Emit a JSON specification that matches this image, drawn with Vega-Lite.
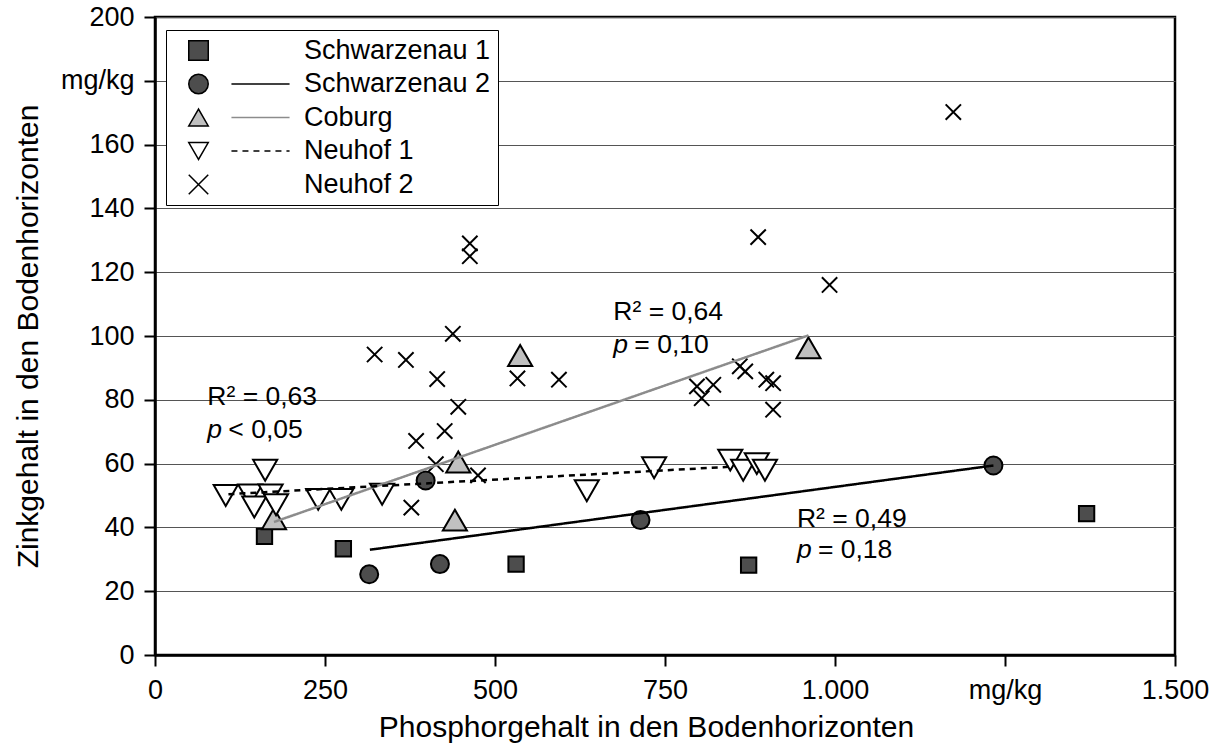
{
  "$schema": "https://vega.github.io/schema/vega-lite/v6.json",
  "width": 1020,
  "height": 638,
  "autosize": {"type": "none"},
  "padding": {"left": 155, "top": 17, "right": 51, "bottom": 94},
  "background": "white",
  "config": {
    "font": "Liberation Sans",
    "view": {"stroke": "black", "strokeWidth": 2.5},
    "axis": {
      "domainColor": "black", "domainWidth": 2.5,
      "tickColor": "black", "tickWidth": 2, "tickSize": 11,
      "labelFont": "Liberation Sans", "labelFontSize": 27, "labelColor": "black",
      "titleFont": "Liberation Sans", "titleFontSize": 30, "titleFontWeight": "normal", "titleColor": "black",
      "gridColor": "#555555", "gridWidth": 1, "gridOpacity": 1
    }
  },
  "datasets": {
    "points": [
      {"site": "Schwarzenau 1", "P": 161, "Zn": 37.2},
      {"site": "Schwarzenau 1", "P": 277, "Zn": 33.3},
      {"site": "Schwarzenau 1", "P": 531, "Zn": 28.5},
      {"site": "Schwarzenau 1", "P": 873, "Zn": 28.2},
      {"site": "Schwarzenau 1", "P": 1370, "Zn": 44.3},
      {"site": "Schwarzenau 2", "P": 315, "Zn": 25.3},
      {"site": "Schwarzenau 2", "P": 419, "Zn": 28.5},
      {"site": "Schwarzenau 2", "P": 398, "Zn": 54.7},
      {"site": "Schwarzenau 2", "P": 714, "Zn": 42.3},
      {"site": "Schwarzenau 2", "P": 1233, "Zn": 59.4},
      {"site": "Coburg", "P": 175, "Zn": 42.7},
      {"site": "Coburg", "P": 441, "Zn": 42.3},
      {"site": "Coburg", "P": 446, "Zn": 60.5},
      {"site": "Coburg", "P": 537, "Zn": 93.9},
      {"site": "Coburg", "P": 961, "Zn": 96.3},
      {"site": "Neuhof 1", "P": 104, "Zn": 50.0},
      {"site": "Neuhof 1", "P": 140, "Zn": 50.2},
      {"site": "Neuhof 1", "P": 146, "Zn": 46.4},
      {"site": "Neuhof 1", "P": 162, "Zn": 57.9},
      {"site": "Neuhof 1", "P": 170, "Zn": 50.2},
      {"site": "Neuhof 1", "P": 178, "Zn": 47.1},
      {"site": "Neuhof 1", "P": 240, "Zn": 48.8},
      {"site": "Neuhof 1", "P": 274, "Zn": 48.8},
      {"site": "Neuhof 1", "P": 334, "Zn": 50.4},
      {"site": "Neuhof 1", "P": 635, "Zn": 51.5},
      {"site": "Neuhof 1", "P": 734, "Zn": 58.7},
      {"site": "Neuhof 1", "P": 846, "Zn": 61.1},
      {"site": "Neuhof 1", "P": 865, "Zn": 57.9},
      {"site": "Neuhof 1", "P": 885, "Zn": 60.0},
      {"site": "Neuhof 1", "P": 897, "Zn": 57.9},
      {"site": "Neuhof 2", "P": 1174, "Zn": 170.2},
      {"site": "Neuhof 2", "P": 887, "Zn": 131},
      {"site": "Neuhof 2", "P": 992, "Zn": 116},
      {"site": "Neuhof 2", "P": 463, "Zn": 129},
      {"site": "Neuhof 2", "P": 463, "Zn": 125},
      {"site": "Neuhof 2", "P": 438, "Zn": 100.7},
      {"site": "Neuhof 2", "P": 323, "Zn": 94.2},
      {"site": "Neuhof 2", "P": 369, "Zn": 92.5},
      {"site": "Neuhof 2", "P": 415, "Zn": 86.5},
      {"site": "Neuhof 2", "P": 533, "Zn": 86.7},
      {"site": "Neuhof 2", "P": 594, "Zn": 86.3},
      {"site": "Neuhof 2", "P": 446, "Zn": 77.8},
      {"site": "Neuhof 2", "P": 426, "Zn": 70.2},
      {"site": "Neuhof 2", "P": 384, "Zn": 67.1},
      {"site": "Neuhof 2", "P": 413, "Zn": 59.8},
      {"site": "Neuhof 2", "P": 475, "Zn": 56.3},
      {"site": "Neuhof 2", "P": 377, "Zn": 46.2},
      {"site": "Neuhof 2", "P": 797, "Zn": 84.2},
      {"site": "Neuhof 2", "P": 821, "Zn": 84.7},
      {"site": "Neuhof 2", "P": 804, "Zn": 80.5},
      {"site": "Neuhof 2", "P": 860, "Zn": 90.5},
      {"site": "Neuhof 2", "P": 868, "Zn": 88.9},
      {"site": "Neuhof 2", "P": 899, "Zn": 86.3},
      {"site": "Neuhof 2", "P": 909, "Zn": 85.2},
      {"site": "Neuhof 2", "P": 909, "Zn": 76.9}
    ],
    "fits": [
      {"fit": "Trend Schwarzenau 2", "P": 316, "Zn": 33.0},
      {"fit": "Trend Schwarzenau 2", "P": 1233, "Zn": 59.4},
      {"fit": "Trend Coburg", "P": 175, "Zn": 41.7},
      {"fit": "Trend Coburg", "P": 961, "Zn": 100.2},
      {"fit": "Trend Neuhof 1", "P": 108, "Zn": 50.4},
      {"fit": "Trend Neuhof 1", "P": 845, "Zn": 59.0}
    ],
    "notes": [
      {"kind": "r2", "P": 77, "Zn": 78.4, "label": "R² = 0,63"},
      {"kind": "p", "P": 77, "Zn": 68.0, "label": "< 0,05"},
      {"kind": "r2", "P": 674, "Zn": 105.0, "label": "R² = 0,64"},
      {"kind": "p", "P": 674, "Zn": 94.7, "label": "= 0,10"},
      {"kind": "r2", "P": 944, "Zn": 40.2, "label": "R² = 0,49"},
      {"kind": "p", "P": 944, "Zn": 30.3, "label": "= 0,18"}
    ]
  },
  "layer": [
    {
      "data": {"name": "points"},
      "transform": [{"filter": "datum.site == 'Schwarzenau 1' || datum.site == 'Neuhof 2'"}],
      "mark": {"type": "point", "filled": true, "stroke": "black", "strokeWidth": 2, "opacity": 1, "size": 235},
      "encoding": {
        "x": {
          "field": "P", "type": "quantitative",
          "scale": {"domain": [0, 1500], "nice": false, "zero": false},
          "axis": {
            "values": [0, 250, 500, 750, 1000, 1250, 1500],
            "grid": false, "labelFlush": false, "labelOverlap": false, "labelBound": false,
            "labelPadding": 11, "format": ",d",
            "labelExpr": "datum.value == 1250 ? 'mg/kg' : replace(datum.label, ',', '.')",
            "title": "Phosphorgehalt in den Bodenhorizonten",
            "titleX": 491, "titleY": 72, "titleAlign": "center", "titleBaseline": "middle"
          }
        },
        "y": {
          "field": "Zn", "type": "quantitative",
          "scale": {"domain": [0, 200], "nice": false},
          "axis": {
            "values": [0, 20, 40, 60, 80, 100, 120, 140, 160, 180, 200],
            "grid": true, "labelPadding": 10, "format": "d", "labelOverlap": false,
            "labelExpr": "datum.value == 180 ? 'mg/kg' : datum.label",
            "title": "Zinkgehalt in den Bodenhorizonten",
            "titleX": -127, "titleY": 319, "titleAngle": 270, "titleAlign": "center", "titleBaseline": "middle"
          }
        },
        "shape": {
          "field": "site", "type": "nominal",
          "scale": {
            "domain": ["Schwarzenau 1", "Schwarzenau 2", "Coburg", "Neuhof 1", "Neuhof 2"],
            "range": ["square", "circle", "triangle-up", "triangle-down", "M-1,-1L1,1M-1,1L1,-1"]
          },
          "legend": {
            "orient": "none", "legendX": 11, "legendY": 13, "title": null,
            "padding": 7, "fillColor": "white", "strokeColor": "black",
            "symbolOffset": 12, "labelOffset": 92, "labelFontSize": 27, "labelFont": "Liberation Sans",
            "labelColor": "black", "labelLimit": 400, "rowPadding": 5.5, "symbolOpacity": 1, "zindex": 1,
            "symbolSize": 380,
            "encode": {"symbols": {"update": {"stroke": {"value": "black"}, "strokeWidth": {"value": 2}}}}
          }
        },
        "fill": {
          "field": "site", "type": "nominal",
          "scale": {
            "domain": ["Schwarzenau 1", "Schwarzenau 2", "Coburg", "Neuhof 1", "Neuhof 2"],
            "range": ["#4d4d4d", "#4d4d4d", "#c0c0c0", "#ffffff", "transparent"]
          },
          "legend": {
            "orient": "none", "legendX": 11, "legendY": 13, "title": null,
            "padding": 7, "fillColor": "white", "strokeColor": "black",
            "symbolOffset": 12, "labelOffset": 92, "labelFontSize": 27, "labelFont": "Liberation Sans",
            "labelColor": "black", "labelLimit": 400, "rowPadding": 5.5, "symbolOpacity": 1, "zindex": 1,
            "symbolSize": 380,
            "encode": {"symbols": {"update": {"stroke": {"value": "black"}, "strokeWidth": {"value": 2}}}}
          }
        }
      }
    },
    {
      "data": {"name": "points"},
      "transform": [{"filter": "datum.site == 'Schwarzenau 2'"}],
      "mark": {"type": "point", "filled": true, "stroke": "black", "strokeWidth": 2, "opacity": 1, "size": 324},
      "encoding": {
        "x": {"field": "P", "type": "quantitative"},
        "y": {"field": "Zn", "type": "quantitative"},
        "shape": {"field": "site", "type": "nominal"},
        "fill": {"field": "site", "type": "nominal"}
      }
    },
    {
      "data": {"name": "points"},
      "transform": [{"filter": "datum.site == 'Coburg' || datum.site == 'Neuhof 1'"}],
      "mark": {"type": "point", "filled": true, "stroke": "black", "strokeWidth": 2, "opacity": 1, "size": 580},
      "encoding": {
        "x": {"field": "P", "type": "quantitative"},
        "y": {"field": "Zn", "type": "quantitative"},
        "shape": {"field": "site", "type": "nominal"},
        "fill": {"field": "site", "type": "nominal"}
      }
    },
    {
      "data": {"name": "fits"},
      "mark": {"type": "line", "strokeWidth": 2.5},
      "encoding": {
        "x": {"field": "P", "type": "quantitative"},
        "y": {"field": "Zn", "type": "quantitative"},
        "stroke": {
          "field": "fit", "type": "nominal",
          "scale": {
            "domain": ["Trend Schwarzenau 1", "Trend Schwarzenau 2", "Trend Coburg", "Trend Neuhof 1", "Trend Neuhof 2"],
            "range": ["transparent", "black", "#8c8c8c", "black", "transparent"]
          },
          "legend": {
            "orient": "none", "legendX": 85, "legendY": 13, "title": null,
            "padding": 7, "symbolType": "M-5,0H5", "symbolSize": 135,
            "labelOpacity": 0, "labelExpr": "' '", "labelFontSize": 27, "labelFont": "Liberation Sans", "labelOffset": 0,
            "rowPadding": 5.5, "zindex": 2
          }
        },
        "strokeDash": {
          "field": "fit", "type": "nominal",
          "scale": {
            "domain": ["Trend Schwarzenau 1", "Trend Schwarzenau 2", "Trend Coburg", "Trend Neuhof 1", "Trend Neuhof 2"],
            "range": [[1, 0], [1, 0], [1, 0], [6, 5], [1, 0]]
          },
          "legend": {
            "orient": "none", "legendX": 85, "legendY": 13, "title": null,
            "padding": 7, "symbolType": "M-5,0H5", "symbolSize": 135,
            "labelOpacity": 0, "labelExpr": "' '", "labelFontSize": 27, "labelFont": "Liberation Sans", "labelOffset": 0,
            "rowPadding": 5.5, "zindex": 2
          }
        }
      }
    },
    {
      "data": {"name": "notes"},
      "transform": [{"filter": "datum.kind == 'r2'"}],
      "mark": {"type": "text", "align": "left", "baseline": "alphabetic", "fontSize": 26.5, "font": "Liberation Sans", "fill": "black"},
      "encoding": {
        "x": {"field": "P", "type": "quantitative"},
        "y": {"field": "Zn", "type": "quantitative"},
        "text": {"field": "label"}
      }
    },
    {
      "data": {"name": "notes"},
      "transform": [{"filter": "datum.kind == 'p'"}],
      "mark": {"type": "text", "align": "left", "baseline": "alphabetic", "fontSize": 26.5, "font": "Liberation Sans", "fontStyle": "italic", "fill": "black", "text": "p"},
      "encoding": {
        "x": {"field": "P", "type": "quantitative"},
        "y": {"field": "Zn", "type": "quantitative"}
      }
    },
    {
      "data": {"name": "notes"},
      "transform": [{"filter": "datum.kind == 'p'"}],
      "mark": {"type": "text", "align": "left", "baseline": "alphabetic", "fontSize": 26.5, "font": "Liberation Sans", "fill": "black", "dx": 21},
      "encoding": {
        "x": {"field": "P", "type": "quantitative"},
        "y": {"field": "Zn", "type": "quantitative"},
        "text": {"field": "label"}
      }
    }
  ]
}
